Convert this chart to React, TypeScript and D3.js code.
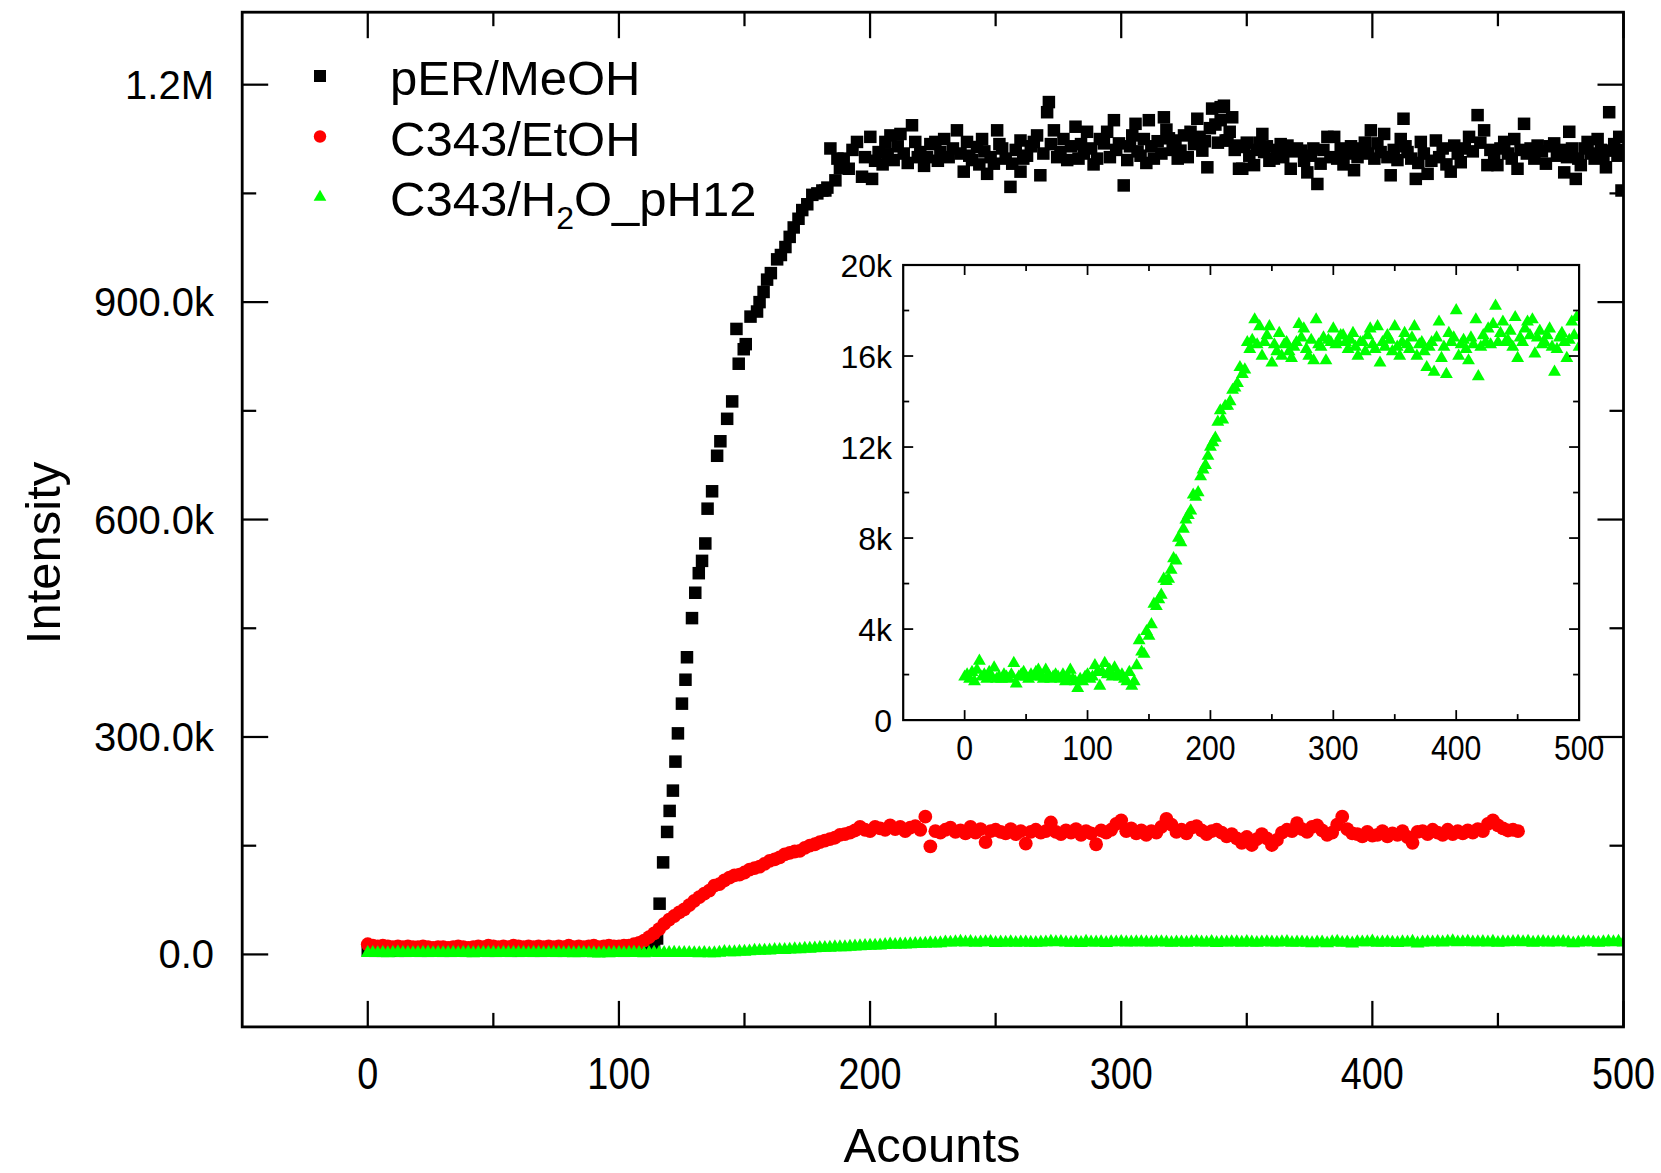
import React from 'react';
import * as d3 from 'd3';

const W = 1661;
const H = 1173;
const FONT = "'Liberation Sans', Arial, Helvetica, sans-serif";

// ---------- data (y in thousands) ----------
const seriesNames = ['pER/MeOH', 'C343/EtOH', 'C343/H2O_pH12'];

// pER/MeOH : [Acounts, Intensity(k)]
const perMeOH: [number, number][] = [
  [0, 6], [3, 5], [6, 5], [9, 6], [12, 5], [15, 5], [18, 6], [21, 5], [24, 5], [27, 6],
  [30, 5], [33, 5], [36, 6], [39, 5], [42, 5], [45, 6], [48, 5], [51, 5], [54, 6], [57, 5],
  [60, 5], [63, 6], [66, 5], [69, 5], [72, 6], [75, 5], [78, 5], [81, 6], [84, 5], [87, 5],
  [90, 6], [93, 5], [96, 5], [99, 6], [102, 5], [105, 6], [108, 6], [111, 7],
  [113, 8], [114, 14], [115.2, 22], [116.2, 70], [117.6, 127], [119.2, 169], [120.2, 198],
  [121.5, 226], [122.5, 266], [123.5, 305], [125.1, 346], [126.5, 379], [127.1, 410],
  [129.1, 464], [130.4, 499], [131.8, 526], [133.1, 543], [134.4, 567], [135.3, 615],
  [137.1, 639], [139.1, 688], [140.4, 708], [143.1, 739], [145.1, 763], [146.8, 863],
  [147.7, 815], [149.7, 835], [150.5, 842], [152.4, 880], [155, 887], [156, 900],
  [157.6, 914], [159, 931], [160.5, 940], [163, 959], [164.5, 965], [166.3, 976],
  [168, 990], [169.6, 1003], [171.5, 1015], [173, 1027], [175, 1035], [177, 1048],
  [179, 1050], [181, 1054], [182.2, 1054], [183, 1058],
  [184.2, 1112], [186.2, 1068], [187, 1098], [188, 1085], [189.5, 1098], [191.5, 1084], [193, 1110],
  [194.8, 1121], [196.8, 1073], [198, 1100], [200.1, 1128], [200.8, 1070], [202, 1095], [203.4, 1107],
  [205, 1090], [206.1, 1121], [207, 1104], [208.1, 1130], [209.4, 1096], [211, 1115], [212.1, 1132],
  [213.4, 1105], [215, 1092], [216.7, 1144], [218, 1121], [219, 1100], [220, 1107], [221.5, 1088],
  [222.7, 1100], [224, 1118], [226, 1121], [227, 1095], [228, 1107], [229.5, 1125], [231.3, 1100],
  [233, 1112], [234.6, 1137], [236, 1105], [237.3, 1080], [238.6, 1121], [239.5, 1102], [240.6, 1096],
  [242.6, 1114], [243.5, 1090], [244.6, 1125], [245.5, 1108], [246.6, 1077], [248, 1100], [249.3, 1091],
  [250.6, 1137], [251.5, 1118], [252.6, 1112], [254, 1098], [255.9, 1059], [256.6, 1091], [258, 1110],
  [259.9, 1080], [259.9, 1123], [261, 1098], [262.5, 1102], [264, 1115], [265.2, 1121], [266.5, 1130],
  [267.8, 1075], [269, 1105], [270.5, 1162], [271.2, 1176], [272, 1118], [273.2, 1137], [274.5, 1100],
  [275.8, 1107], [277, 1125], [278.5, 1096], [280, 1115], [281.8, 1142], [283, 1098], [284, 1118],
  [285.1, 1105], [286.4, 1135], [288, 1112], [289, 1090], [290.4, 1098], [291.5, 1125], [293.1, 1119],
  [294.4, 1135], [295.5, 1100], [297.1, 1151], [298, 1110], [299.1, 1119], [301, 1061], [302.4, 1096],
  [303.5, 1115], [304.4, 1130], [305.7, 1146], [306.5, 1108], [307.7, 1102], [309, 1125], [310, 1092],
  [311, 1151], [312, 1115], [313, 1098], [314.5, 1122], [316, 1105], [317, 1155], [318, 1138],
  [319, 1126], [320.5, 1110], [321.6, 1123], [322.5, 1098], [323.6, 1109], [325, 1130], [326.5, 1100],
  [327.6, 1135], [329, 1118], [330.3, 1153], [331.2, 1128], [332.3, 1109], [333.3, 1122], [334.3, 1086],
  [335.3, 1140], [336.2, 1167], [337.5, 1145], [338.5, 1120], [339.6, 1169], [339.6, 1151], [340.9, 1171],
  [341.6, 1123], [342.3, 1123], [343.2, 1135], [344.2, 1155], [345.2, 1110], [346.2, 1116], [346.9, 1084],
  [348.2, 1084], [348.9, 1114], [350, 1120], [351, 1102], [352.9, 1089], [354, 1110], [355, 1120],
  [356.2, 1132], [356.9, 1107], [358, 1115], [359, 1095], [360.8, 1098], [362, 1110], [363.5, 1118],
  [364.5, 1100], [366.2, 1116], [367.5, 1084], [368.5, 1108], [370, 1112], [371.5, 1109], [372.8, 1095],
  [374.1, 1079], [375.5, 1102], [376.5, 1112], [378.1, 1063], [379.4, 1091], [380.5, 1110], [382.1, 1128],
  [383.3, 1100], [384.8, 1128], [386, 1098], [387.4, 1112], [388.5, 1090], [390, 1105], [391.5, 1115],
  [392.7, 1082], [394.1, 1100], [395.5, 1112], [397, 1120], [398.2, 1105], [399.4, 1137], [400.8, 1098],
  [402, 1119], [403.3, 1107], [404.7, 1132], [406, 1100], [407.3, 1075], [408.5, 1110], [410, 1096],
  [411.3, 1125], [412.4, 1153], [413.2, 1115], [414, 1107], [415.5, 1098], [417.3, 1070], [418.3, 1092],
  [419.3, 1121], [420.5, 1105], [422, 1077], [423.5, 1095], [425.3, 1123], [426.6, 1100], [428, 1112],
  [429.5, 1090], [431.2, 1080], [432.6, 1116], [434, 1105], [435.2, 1093], [436.8, 1112], [438.5, 1128],
  [440, 1108], [441.9, 1158], [443, 1120], [444.5, 1137], [445.8, 1089], [447, 1110], [448.5, 1102],
  [449.8, 1089], [451, 1112], [452.5, 1121], [454, 1105], [455.5, 1098], [456.5, 1125], [457.8, 1084],
  [459, 1110], [460.4, 1146], [461.5, 1105], [463, 1112], [464.5, 1098], [465.8, 1116], [467.5, 1108],
  [469.1, 1091], [470.5, 1115], [472.4, 1119], [473.5, 1102], [475, 1110], [476.4, 1079], [477.5, 1100],
  [478.4, 1135], [479.5, 1112], [481, 1070], [482, 1098], [483, 1089], [484.5, 1112], [485.7, 1121],
  [487, 1105], [488.5, 1098], [489.7, 1125], [491, 1110], [492, 1102], [493, 1086], [494.3, 1162],
  [495, 1109], [496.3, 1118], [497.6, 1102], [498.3, 1128], [499.2, 1054], [500, 1110],
];

// C343/EtOH : intensity (k) at Acounts 0, 2, 4, ... 458
const c343EtOHX = d3.range(0, 459, 2);
const c343EtOH: number[] = [
  14, 12, 11, 12, 11, 10, 11, 10, 11, 10,
  10, 11, 10, 9, 10, 10, 9, 10, 11, 10,
  9, 10, 11, 10, 12, 11, 10, 11, 10, 12,
  11, 10, 11, 10, 11, 10, 11, 10, 11, 10,
  12, 10, 11, 10, 11, 12, 10, 11, 12, 11,
  11, 12, 12, 14, 16, 19, 24, 29, 35, 42,
  48, 53, 58, 62, 68, 74, 79, 84, 88, 95,
  97, 102, 106, 109, 110, 113, 117, 119, 121, 125,
  129, 131, 134, 138, 140, 142, 143, 147, 150, 152,
  155, 157, 159, 161, 165, 166, 168, 171, 176, 172,
  170, 176, 174, 172, 178, 173, 176, 170, 175, 177,
  172, 190, 149, 170, 168, 172, 175, 169, 171, 167,
  176, 168, 173, 155, 170, 172, 169, 167, 173, 166,
  170, 153, 169, 172, 168, 170, 182, 169, 166, 171,
  168, 173, 165, 170, 167, 152, 171, 168, 172, 180,
  185, 170, 174, 167, 171, 165, 170, 168, 176, 187,
  179, 169, 172, 167, 175, 177, 171, 166, 170, 172,
  168, 163, 166, 160, 154, 162, 151, 159, 166, 160,
  151, 158, 168, 172, 170, 181, 173, 169, 176, 178,
  171, 165, 168, 179, 190, 173, 167, 166, 163, 169,
  164, 165, 170, 163, 167, 165, 170, 162, 154, 169,
  170, 166, 172, 168, 165, 172, 166, 170, 167, 171,
  168, 173, 170, 180, 185, 178, 174, 171, 172, 170,
];

// C343/H2O_pH12 : intensity (k) at Acounts 0, 2, 4, ... 500
const c343H2OX = d3.range(0, 501, 2);
const c343H2O: number[] = [
  1.9, 2.0, 1.8, 2.1, 1.7, 2.2, 2.6, 1.9, 2.0, 1.8,
  2.1, 1.9, 2.3, 1.8, 1.9, 1.8, 2.0, 1.9, 1.8, 2.0,
  2.5, 1.6, 1.9, 2.0, 2.1, 1.9, 1.8, 2.0, 1.9, 2.1,
  2.2, 1.9, 1.8, 2.2, 2.0, 1.8, 1.9, 2.0, 1.9, 1.8,
  2.0, 1.7, 1.9, 2.2, 1.8, 1.7, 1.4, 1.8, 1.7, 1.9,
  2.0, 1.8, 1.9, 2.4, 2.1, 1.5, 2.1, 2.5, 2.0, 2.2,
  1.9, 2.3, 2.0, 1.9, 2.0, 1.8, 1.7, 2.1, 1.5, 1.7,
  2.4, 3.5, 3.0, 2.9, 3.9, 3.7, 4.2, 5.1, 5.0, 5.3,
  5.5, 6.2, 6.1, 6.2, 6.6, 7.1, 7.0, 8.0, 7.8, 8.4,
  8.8, 9.0, 9.2, 9.9, 9.8, 10.0, 10.7, 11.0, 11.2, 11.6,
  12.0, 12.2, 12.4, 13.1, 13.6, 13.2, 13.8, 13.8, 14.0, 14.5,
  14.6, 14.8, 15.5, 15.2, 15.4, 16.6, 16.3, 16.7, 17.6, 16.5,
  17.3, 16.0, 16.6, 16.9, 17.3, 15.7, 16.5, 16.2, 17.0, 16.0,
  16.5, 16.6, 16.2, 15.9, 16.4, 16.6, 17.4, 16.8, 17.2, 16.3,
  16.0, 16.7, 15.8, 17.6, 16.5, 16.4, 16.8, 15.8, 16.7, 16.6,
  17.2, 16.5, 16.6, 16.9, 16.9, 16.6, 16.3, 16.7, 17.0, 16.4,
  16.0, 16.6, 16.6, 16.2, 16.9, 17.2, 16.5, 16.3, 17.3, 15.7,
  16.6, 16.4, 16.9, 16.7, 16.2, 17.3, 16.4, 16.0, 16.6, 17.0,
  16.5, 16.3, 16.8, 17.3, 16.0, 16.5, 16.6, 16.2, 15.5, 16.4,
  16.6, 15.3, 16.8, 17.5, 15.9, 16.4, 15.2, 17.0, 16.6, 16.8,
  18.0, 16.0, 16.5, 16.7, 16.3, 15.8, 16.8, 16.5, 17.6, 15.1,
  16.4, 16.9, 16.6, 17.2, 16.5, 17.4, 18.2, 16.6, 17.0, 17.5,
  16.6, 16.7, 17.1, 16.4, 17.7, 15.9, 16.8, 16.6, 17.2, 17.5,
  16.9, 17.6, 16.1, 16.8, 17.1, 16.5, 16.6, 16.9, 17.2, 16.4,
  15.3, 16.3, 16.8, 17.0, 16.6, 15.9, 16.7, 17.5, 16.9, 17.7,
  16.4,
];

// axis ticks
const mainXTicks = [0, 100, 200, 300, 400, 500];
const mainXMinor = [50, 150, 250, 350, 450];
const mainYTicks = [0, 300, 600, 900, 1200];
const mainYLabels = ['0.0', '300.0k', '600.0k', '900.0k', '1.2M'];
const mainYMinor = [150, 450, 750, 1050];
const insetXTicks = [0, 100, 200, 300, 400, 500];
const insetXMinor = [50, 150, 250, 350, 450];
const insetYTicks = [0, 4, 8, 12, 16, 20];
const insetYLabels = ['0', '4k', '8k', '12k', '16k', '20k'];
const insetYMinor = [2, 6, 10, 14, 18];

const BLACK = '#000000';
const RED = '#ff0000';
const GREEN = '#00ff00';

const triPath = (size: number) => d3.symbol(d3.symbolTriangle, size)() as string;

function Frame({ x, y, major, minor, minorY, majorY, lw }: any) {
  const [x0, x1] = x.range();
  const [y0, y1] = y.range(); // y0 bottom, y1 top
  const els: any[] = [];
  const tick = (key: string, x1_: number, y1_: number, x2_: number, y2_: number) =>
    els.push(<line key={key} x1={x1_} y1={y1_} x2={x2_} y2={y2_} stroke="#000" strokeWidth={lw * 0.8} />);
  major.xs.forEach((v: number) => {
    const px = x(v);
    tick('bx' + v, px, y0, px, y0 - majorY);
    tick('tx' + v, px, y1, px, y1 + majorY);
  });
  minor.xs.forEach((v: number) => {
    const px = x(v);
    tick('bxm' + v, px, y0, px, y0 - minorY);
    tick('txm' + v, px, y1, px, y1 + minorY);
  });
  major.ys.forEach((v: number) => {
    const py = y(v);
    tick('ly' + v, x0, py, x0 + majorY, py);
    tick('ry' + v, x1, py, x1 - majorY, py);
  });
  minor.ys.forEach((v: number) => {
    const py = y(v);
    tick('lym' + v, x0, py, x0 + minorY, py);
    tick('rym' + v, x1, py, x1 - minorY, py);
  });
  return (
    <g>
      {els}
      <rect x={x0} y={y1} width={x1 - x0} height={y0 - y1} fill="none" stroke="#000" strokeWidth={lw} />
    </g>
  );
}

export default function App() {
  // main plot scales
  const x = d3.scaleLinear().domain([-50, 500]).range([242.2, 1623.5]);
  const y = d3.scaleLinear().domain([-100, 1300]).range([1026.9, 12.2]);
  // inset scales
  const xi = d3.scaleLinear().domain([-50, 500]).range([903.2, 1579.1]);
  const yi = d3.scaleLinear().domain([0, 20]).range([720.1, 265]);

  const sq = 12.5;
  const tri = triPath(82);
  const triInset = triPath(72);

  const [mx0, mx1] = x.range();
  const [my0, my1] = y.range();
  const [ix0, ix1] = xi.range();
  const [iy0, iy1] = yi.range();

  return (
    <svg
      width={W}
      height={H}
      viewBox={`0 0 ${W} ${H}`}
      style={{ position: 'absolute', left: 0, top: 0, background: '#fff' }}
      fontFamily={FONT}
    >
      <defs>
        <clipPath id="mainClip">
          <rect x={mx0} y={my1} width={mx1 - mx0} height={my0 - my1} />
        </clipPath>
        <clipPath id="insetClip">
          <rect x={ix0} y={iy1} width={ix1 - ix0} height={iy0 - iy1} />
        </clipPath>
      </defs>
      <rect x={0} y={0} width={W} height={H} fill="#fff" />

      {/* main data */}
      <g clipPath="url(#mainClip)">
        <g fill={BLACK}>
          {perMeOH.map(([a, b], i) => (
            <rect key={'k' + i} x={x(a) - sq / 2} y={y(b) - sq / 2} width={sq} height={sq} />
          ))}
        </g>
        <g fill={RED}>
          {c343EtOH.map((v, i) => (
            <circle key={'r' + i} cx={x(c343EtOHX[i])} cy={y(v)} r={6.9} />
          ))}
        </g>
        <g fill={GREEN}>
          {c343H2O.map((v, i) => (
            <path key={'g' + i} d={tri} transform={`translate(${x(c343H2OX[i])},${y(v)})`} />
          ))}
        </g>
      </g>

      <Frame
        x={x}
        y={y}
        major={{ xs: mainXTicks, ys: mainYTicks }}
        minor={{ xs: mainXMinor, ys: mainYMinor }}
        majorY={26}
        minorY={14}
        lw={2.8}
      />

      {/* main tick labels */}
      {mainXTicks.map((v) => (
        <text
          key={'mxl' + v}
          transform={`translate(${x(v)},1089) scale(0.86,1)`}
          textAnchor="middle"
          fontSize={44}
          fill="#000"
        >
          {v}
        </text>
      ))}
      {mainYTicks.map((v, i) => (
        <text key={'myl' + v} x={214} y={y(v) + 14} textAnchor="end" fontSize={40} fill="#000">
          {mainYLabels[i]}
        </text>
      ))}

      {/* axis titles */}
      <text x={932} y={1162} textAnchor="middle" fontSize={49} fill="#000">
        Acounts
      </text>
      <text transform="translate(60,553) rotate(-90)" textAnchor="middle" fontSize={49} fill="#000">
        Intensity
      </text>

      {/* legend */}
      <g>
        <rect x={320 - 6} y={76 - 6} width={12} height={12} fill={BLACK} />
        <text x={390} y={95} fontSize={49} fill="#000">{seriesNames[0]}</text>
        <circle cx={320} cy={136.5} r={6.2} fill={RED} />
        <text x={390} y={155.5} fontSize={49} fill="#000">{seriesNames[1]}</text>
        <path d={triPath(70)} transform="translate(320,197)" fill={GREEN} />
        <text x={390} y={216} fontSize={49} fill="#000">
          C343/H
          <tspan dy={13} fontSize={32}>2</tspan>
          <tspan dy={-13}>O_pH12</tspan>
        </text>
      </g>

      {/* inset */}
      <rect x={ix0} y={iy1} width={ix1 - ix0} height={iy0 - iy1} fill="#fff" />
      <g clipPath="url(#insetClip)" fill={GREEN}>
        {c343H2O.map((v, i) => (
          <path key={'gi' + i} d={triInset} transform={`translate(${xi(c343H2OX[i])},${yi(v)})`} />
        ))}
      </g>
      <Frame
        x={xi}
        y={yi}
        major={{ xs: insetXTicks, ys: insetYTicks }}
        minor={{ xs: insetXMinor, ys: insetYMinor }}
        majorY={10}
        minorY={6}
        lw={2.2}
      />
      {insetXTicks.map((v) => (
        <text
          key={'ixl' + v}
          transform={`translate(${xi(v)},760) scale(0.84,1)`}
          textAnchor="middle"
          fontSize={36}
          fill="#000"
        >
          {v}
        </text>
      ))}
      {insetYTicks.map((v, i) => (
        <text key={'iyl' + v} x={892} y={yi(v) + 12} textAnchor="end" fontSize={32} fill="#000">
          {insetYLabels[i]}
        </text>
      ))}
    </svg>
  );
}
